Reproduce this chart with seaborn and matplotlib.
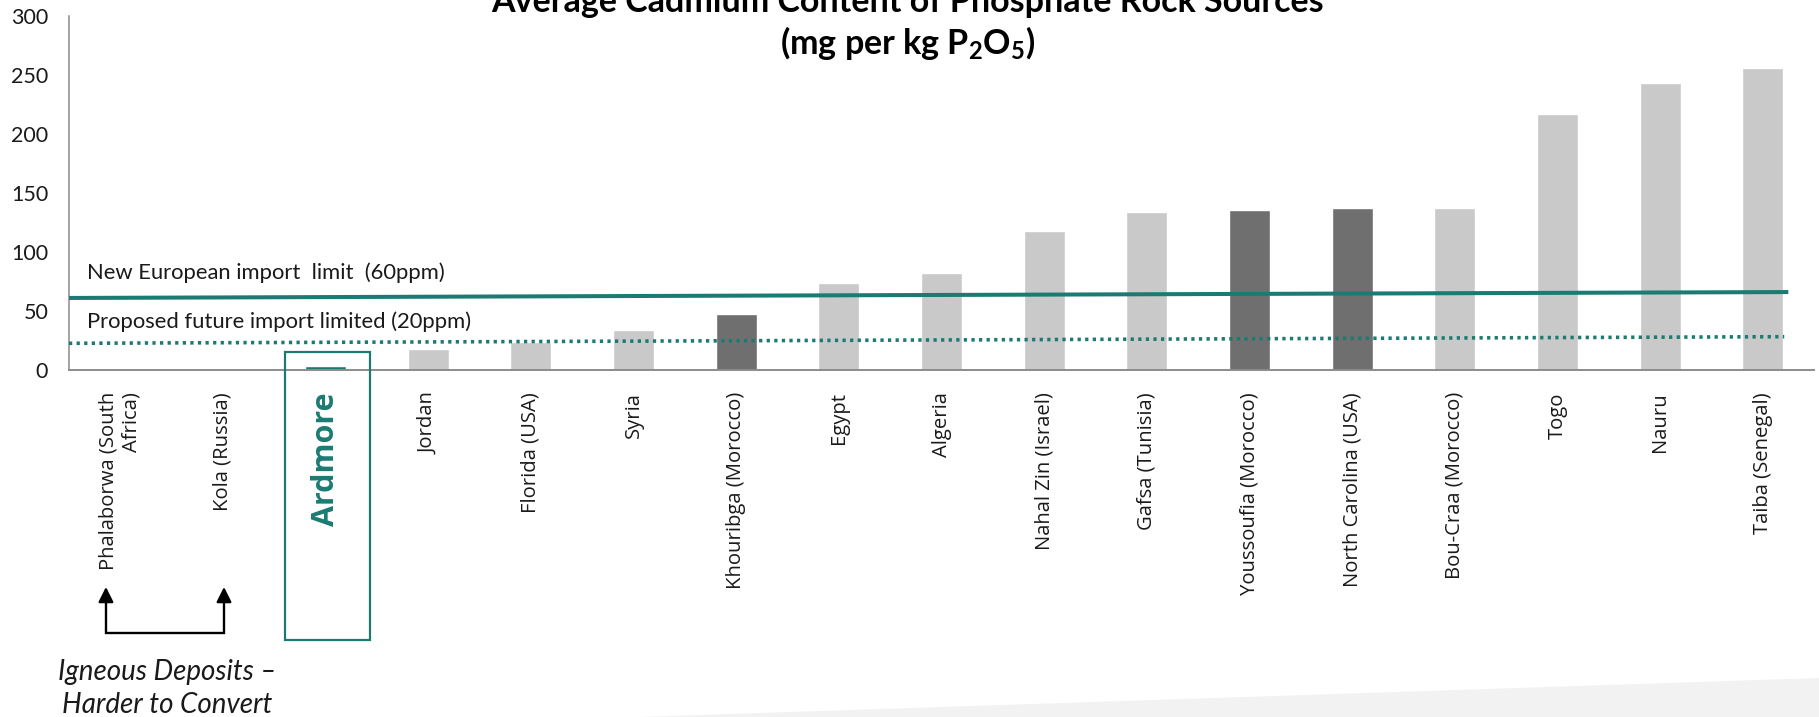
import matplotlib
matplotlib.use("Agg")
import matplotlib.pyplot as plt
import seaborn as sns
import pandas as pd
from matplotlib.patches import Rectangle, Polygon

# ---- data ----
categories = ["Phalaborwa (South\nAfrica)", "Kola (Russia)", "Ardmore", "Jordan", "Florida (USA)",
              "Syria", "Khouribga (Morocco)", "Egypt", "Algeria", "Nahal Zin (Israel)",
              "Gafsa (Tunisia)", "Youssoufia (Morocco)", "North Carolina (USA)",
              "Bou-Craa (Morocco)", "Togo", "Nauru", "Taiba (Senegal)"]
cadmium = [0, 0, 3.5, 18, 23.5, 34, 47, 74, 82, 118, 134, 135.5, 137, 137, 217, 243, 256]
bar_kind = ["light", "light", "ardmore", "light", "light", "light", "dark", "light", "light",
            "light", "light", "dark", "dark", "light", "light", "light", "light"]
eu_limit = [61, 66]          # New European import limit line (start, end)
future_limit = [22.6, 28.2]  # Proposed future import limit line (start, end)
yticks = [0, 50, 100, 150, 200, 250, 300]

TEAL = "#1B7B72"
LIGHT = "#C9C9C9"
DARK = "#6F6F6F"
kind_color = {"light": LIGHT, "dark": DARK, "ardmore": TEAL}

sns.set_style("white")
plt.rcParams["font.family"] = ["Lato", "DejaVu Sans"]
plt.rcParams["mathtext.default"] = "regular"

fig = plt.figure(figsize=(18.19, 7.17), dpi=100)
fig.patches.append(Polygon([(639 / 1819, 0), (1, 0), (1, 39 / 717)], closed=True,
                           transform=fig.transFigure, facecolor="#F2F2F2",
                           edgecolor="none", zorder=0))
ax = fig.add_axes([69 / 1819, 347 / 717, 1745 / 1819, 354.3 / 717])
ax.set_facecolor("none")

df = pd.DataFrame({"cat": categories, "val": cadmium})
sns.barplot(data=df, x="cat", y="val", hue="cat", order=categories, hue_order=categories,
            palette=[kind_color[k] for k in bar_kind], legend=False, width=0.4,
            saturation=1, ax=ax, zorder=2)

ax.set_xlim(-0.5, len(categories) - 0.5)
ax.set_ylim(0, 300)
ax.set_yticks(yticks)
ax.set_yticklabels([str(t) for t in yticks], fontsize=15.5, color="#1A1A1A")
ax.tick_params(axis="y", length=0, pad=15)
ax.tick_params(axis="x", length=0, pad=16)
ax.set_xlabel("")
ax.set_ylabel("")
ax.set_xticks(range(len(categories)))
ax.set_xticklabels(categories, rotation=90, ha="center", va="top",
                   multialignment="right", fontsize=14.6, family="Open Sans", color="#1A1A1A")
lab = ax.get_xticklabels()[2]
lab.set_fontweight("bold")
lab.set_color(TEAL)
lab.set_fontsize(22)

for s in ["top", "right"]:
    ax.spines[s].set_visible(False)
ax.spines["left"].set_color("#8C8C8C")
ax.spines["left"].set_linewidth(1.1)
ax.spines["bottom"].set_color("#8C8C8C")
ax.spines["bottom"].set_linewidth(1.4)
ax.spines["bottom"].set_zorder(3)

# limit lines
ax.plot([-0.5, 16.25], eu_limit, color=TEAL, lw=2.9, solid_capstyle="butt", zorder=4)
ax.plot([-0.5, 16.21], future_limit, color=TEAL, lw=2.6, linestyle=(0, (0.9, 1.2)),
        dash_capstyle="butt", zorder=4)
ax.text(-0.325, 77, "New European import  limit  (60ppm)", fontsize=15.8, color="#1A1A1A",
        va="baseline", ha="left", zorder=5)
ax.text(-0.325, 35.3, "Proposed future import limited (20ppm)", fontsize=15.8, color="#1A1A1A",
        va="baseline", ha="left", zorder=5)

# Ardmore box
ax.add_patch(Rectangle((1.602, -228.6), 0.835, 244.1, fill=False, edgecolor=TEAL,
                       lw=1.6, clip_on=False, zorder=5))

# igneous bracket
xa, xb = -0.14, 1.01
ax.plot([xa, xa, xb, xb], [-196, -222.7, -222.7, -196], color="black", lw=1.7,
        clip_on=False, solid_joinstyle="miter", zorder=5)
for xx in (xa, xb):
    ax.annotate("", xy=(xx, -183.7), xytext=(xx, -197), xycoords="data",
                arrowprops=dict(arrowstyle="-|>,head_length=0.9,head_width=0.45",
                                color="black", lw=1.7, shrinkA=0, shrinkB=0),
                annotation_clip=False)
ax.text(0.455, -269.5, "Igneous Deposits \u2013\nHarder to Convert", fontsize=20,
        style="italic", ha="center", va="center", linespacing=1.35, color="#1A1A1A",
        clip_on=False)

# title
fig.text(0.499, 1 - 12.5 / 717, "Average Cadmium Content of Phosphate Rock Sources",
         fontsize=24.5, fontweight="bold", ha="center", va="baseline", color="black")
fig.text(0.499, 1 - 54 / 717, r"(mg per kg P$\mathregular{_2}$O$\mathregular{_5}$)",
         fontsize=24.5, fontweight="bold", ha="center", va="baseline", color="black")

fig.savefig("out.png", dpi=100)
